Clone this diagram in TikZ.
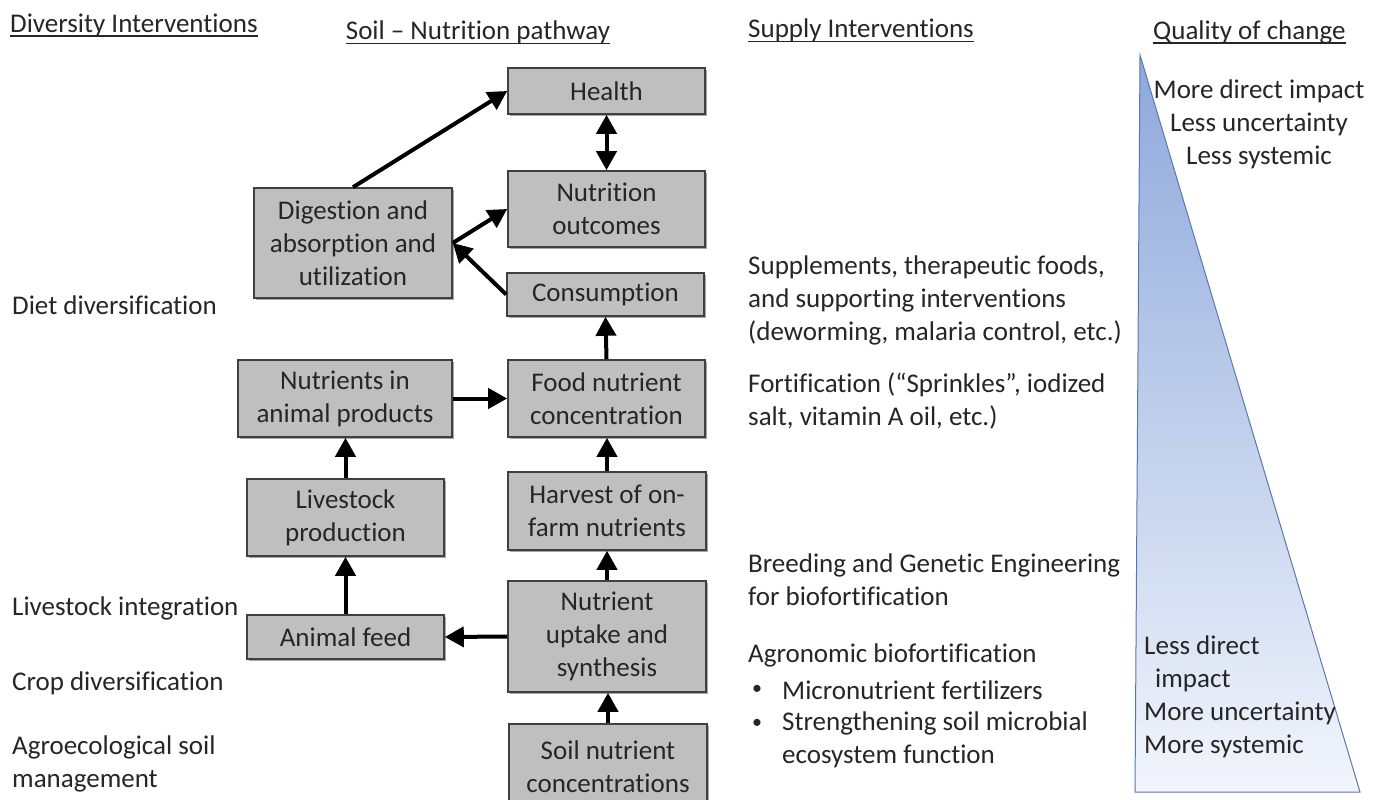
\documentclass[tikz,border=0pt]{standalone}
\usepackage{fontspec}
\setmainfont{Carlito}[Ligatures=NoCommon]
\usetikzlibrary{arrows.meta,shadows}
\definecolor{boxfill}{HTML}{BFBFBF}
\definecolor{boxline}{HTML}{404040}
\definecolor{txt}{HTML}{262626}
\definecolor{tritop}{HTML}{8DA8DB}
\definecolor{trimid}{HTML}{AFC2E6}
\definecolor{tribot}{HTML}{F2F5FC}
\definecolor{triline}{HTML}{5A78B0}
\begin{document}
\begin{tikzpicture}[x=1pt,y=-1pt,
  every node/.style={font=\fontsize{27}{33}\selectfont, text=txt},
  pbox/.style={draw=boxline, line width=1.6pt, fill=boxfill, align=center, inner sep=0pt,
    drop shadow={shadow xshift=2pt, shadow yshift=-2pt, opacity=0.35, fill=black}},
  lbl/.style={anchor=west, align=left, inner sep=0pt},
  bul/.style={anchor=west, inner sep=0pt, font=\fontsize{20}{24}\selectfont},
  flow/.style={line width=4pt, -{Triangle[length=19pt,width=20pt]}},
  both/.style={line width=4pt, {Triangle[length=19pt,width=20pt]}-{Triangle[length=19pt,width=20pt]}},
  uline/.style={line width=1.3pt, draw=txt}
]
\useasboundingbox[fill=white] (0,0) rectangle (1386,800);

% titles
\node[lbl] (t1) at (10,25) {Diversity Interventions};
\node[inner sep=0pt] (t2) at (478,32) {Soil – Nutrition pathway};
\node[lbl] (t3) at (748,30) {Supply Interventions};
\node[lbl] (t4) at (1153,32) {Quality of change};
\foreach \t in {t1,t2,t3,t4}{
  \draw[uline] ([yshift=-4pt]\t.base west) -- ([yshift=-4pt]\t.base east);
}

% triangle
\shadedraw[top color=tritop, middle color=trimid, bottom color=tribot, draw=triline, line width=1pt]
  (1140,55) -- (1135,792) -- (1360,792) -- cycle;
\node[align=center, inner sep=0pt] (qtop) at (1259,124) {More direct impact\\Less uncertainty\\Less systemic};
\node[lbl] (qbot) at (1144,697) {Less direct\\\hspace*{11pt}impact\\More uncertainty\\More systemic};

% boxes
\node[pbox, minimum width=197pt, minimum height=46pt] (health) at (606.5,91) {Health};
\node[pbox, minimum width=197pt, minimum height=76pt] (nut) at (606.5,209) {Nutrition\\outcomes};
\node[pbox, minimum width=198pt, minimum height=110pt] (dig) at (353,243) {Digestion and\\absorption and\\utilization};
\node[pbox, minimum width=197pt, minimum height=43pt] (cons) at (605.5,294.5) {Consumption};
\node[pbox, minimum width=214pt, minimum height=77pt] (anim) at (345,398.5) {Nutrients in\\animal products};
\node[pbox, minimum width=197pt, minimum height=77pt] (food) at (606.5,398.5) {Food nutrient\\concentration};
\node[pbox, minimum width=197pt, minimum height=77pt] (live) at (345.5,517.5) {Livestock\\production};
\node[pbox, minimum width=198pt, minimum height=78pt] (harv) at (607,511) {Harvest of on-\\farm nutrients};
\node[pbox, minimum width=197pt, minimum height=44pt] (feed) at (345.5,637) {Animal feed};
\node[pbox, minimum width=198pt, minimum height=111pt] (upt) at (607,636.5) {Nutrient\\uptake and\\synthesis};
\node[pbox, minimum width=198pt, minimum height=86pt] (soil) at (608,767) {Soil nutrient\\concentrations};

% connectors
\draw[flow] (dig.north) -- (health.west);
\draw[both] (health.south) -- (nut.north);
\draw[flow] (dig.east) -- (nut.west);
\draw[flow] (cons.west) -- (dig.east);
\draw[flow] (food.north) -- (cons.south);
\draw[flow] (anim.east) -- (food.west);
\draw[flow] (live.north) -- (live.north |- anim.south);
\draw[flow] (feed.north) -- (feed.north |- live.south);
\draw[flow] (upt.west) -- (feed.east);
\draw[flow] (harv.north) -- (harv.north |- food.south);
\draw[flow] (upt.north) -- (upt.north |- harv.south);
\draw[flow] (soil.north) -- (soil.north |- upt.south);

% diversity interventions
\node[lbl] (d1) at (12,305) {Diet diversification};
\node[lbl] (d2) at (12,608) {Livestock integration};
\node[lbl] (d3) at (12,683) {Crop diversification};
\node[lbl] (d4) at (12,764) {Agroecological soil\\management};

% supply interventions
\node[lbl] (s1) at (748,300) {Supplements, therapeutic foods,\\and supporting interventions\\(deworming, malaria control, etc.)};
\node[lbl] (s2) at (748,401) {Fortification (“Sprinkles”, iodized\\salt, vitamin A oil, etc.)};
\node[lbl] (s3) at (748,580) {Breeding and Genetic Engineering\\for biofortification};
\node[lbl] (s4) at (748,655) {Agronomic biofortification};
\node[bul] (b1) at (752,690) {•};
\node[lbl] (s5) at (782,690) {Micronutrient fertilizers};
\node[bul] (b2) at (752,724) {•};
\node[lbl] (s6) at (782,740) {Strengthening soil microbial\\ecosystem function};
\end{tikzpicture}
\end{document}
